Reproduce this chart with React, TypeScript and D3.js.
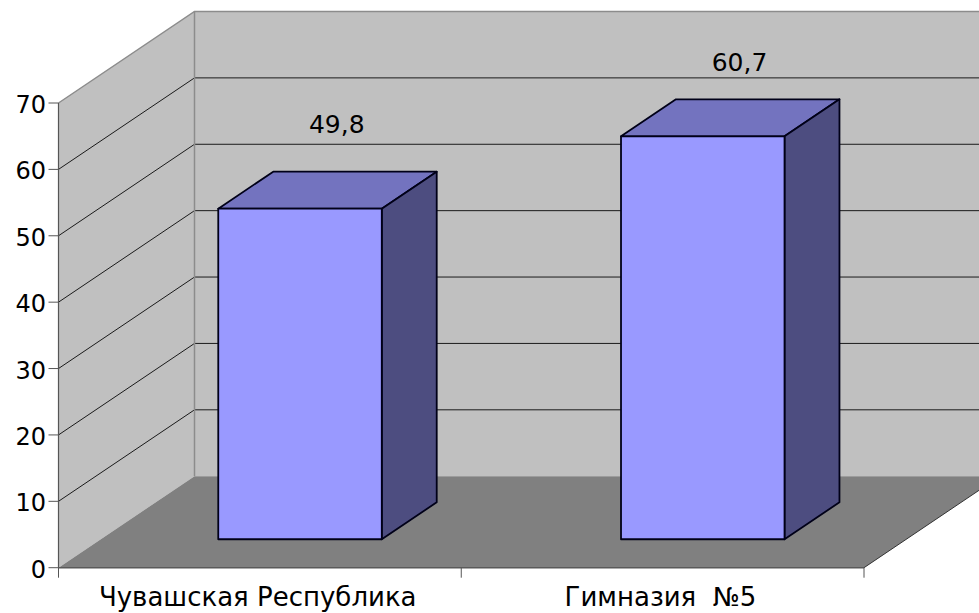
import React from "react";
import * as d3 from "d3";

const categories = ["Чувашская Республика", "Гимназия  №5"];
const values = [49.8, 60.7];
const valueLabels = ["49,8", "60,7"];
const labelLift = [104, 94];
const yTicks = [0, 10, 20, 30, 40, 50, 60, 70];

const W = 979, H = 613;
const X0 = 58.5, X1 = 864, Y0 = 567.7, Y70 = 103;
const DX = 136, DY = -91.5;
const FRONT = 0.311, BACK = 0.715;
const FONT = "'DejaVu Sans', sans-serif";

const x = d3.scaleBand<string>().domain(categories).range([X0, X1]).paddingInner(0.594).paddingOuter(0.297).align(0.491);
const y = d3.scaleLinear().domain([0, 70]).range([Y0, Y70]);
const line = d3.line<[number, number]>();
const poly = (p: [number, number][]) => line(p) + "Z";
const at = (px: number, py: number, d: number): [number, number] => [px + DX * d, py + DY * d];

export default function App() {
  const floor: [number, number][] = [[X0, Y0], at(X0, Y0, 1), at(X1, Y0, 1), [X1, Y0]];
  const side: [number, number][] = [[X0, Y0], [X0, y(70)], at(X0, y(70), 1), at(X0, Y0, 1)];
  const back: [number, number][] = [at(X0, y(70), 1), at(X1, y(70), 1), at(X1, Y0, 1), at(X0, Y0, 1)];
  const bandCenter = (c: string) => x(c)! + x.bandwidth() / 2;
  return (
    <svg width={W} height={H} style={{ position: "absolute", left: 0, top: 0, background: "#fff" }}>
      <path d={poly(back)} fill="#c0c0c0" />
      <path d={poly(side)} fill="#c0c0c0" />
      <path d={poly(floor)} fill="#808080" />
      {yTicks.slice(1, -1).map((t) => {
        const a: [number, number] = [X0, y(t)], b = at(X0, y(t), 1), c = at(X1, y(t), 1);
        return <path key={t} d={line([a, b, c])!} fill="none" stroke="#1a1a1a" strokeWidth={1} />;
      })}
      <path d={line([[X0, y(70)], at(X0, y(70), 1), at(X1, y(70), 1)])!} fill="none" stroke="#8c8c8c" strokeWidth={1.5} />
      <path d={line([at(X0, y(70), 1), at(X0, Y0, 1)])!} fill="none" stroke="#8c8c8c" strokeWidth={1.5} />
      <path d={line([[X1, Y0], at(X1, Y0, 1)])!} fill="none" stroke="#333" strokeWidth={1} />
      <path d={line([[X0, y(70)], [X0, Y0]])!} fill="none" stroke="#555" strokeWidth={1.2} />
      <path d={line([[X0, Y0], [X1, Y0]])!} fill="none" stroke="#5a5a5a" strokeWidth={1.6} />
      {yTicks.map((t) => (
        <g key={t}>
          <line x1={X0 - 10} x2={X0} y1={y(t)} y2={y(t)} stroke="#555" strokeWidth={1} />
          <text x={46} y={y(t) + 10} textAnchor="end" fontFamily={FONT} fontSize={24} fill="#000">{t}</text>
        </g>
      ))}
      {[X0, X0 + (X1 - X0) / 2, X1].map((tx) => (
        <line key={tx} x1={tx} x2={tx} y1={Y0} y2={Y0 + 10} stroke="#555" strokeWidth={1} />
      ))}
      {categories.map((c, i) => {
        const l = x(c)!, r = l + x.bandwidth();
        const yb = y(0), yt = y(values[i]);
        const fbl = at(l, yb, FRONT), fbr = at(r, yb, FRONT), ftl = at(l, yt, FRONT), ftr = at(r, yt, FRONT);
        const bbr = at(r, yb, BACK), btl = at(l, yt, BACK), btr = at(r, yt, BACK);
        return (
          <g key={c} stroke="#000018" strokeWidth={1.8} strokeLinejoin="round">
            <path d={poly([ftl, btl, btr, ftr])} fill="#7373bf" />
            <path d={poly([fbr, ftr, btr, bbr])} fill="#4d4d80" />
            <path d={poly([ftl, ftr, fbr, fbl])} fill="#9999ff" />
          </g>
        );
      })}
      {categories.map((c, i) => (
        <text key={c} x={bandCenter(c) + 79} y={y(values[i]) - labelLift[i]} textAnchor="middle" fontFamily={FONT} fontSize={25} fill="#000">{valueLabels[i]}</text>
      ))}
      {categories.map((c) => (
        <text key={c} x={bandCenter(c)} y={606} textAnchor="middle" fontFamily={FONT} fontSize={26} fill="#000" style={{ whiteSpace: "pre" }}>{c}</text>
      ))}
    </svg>
  );
}
